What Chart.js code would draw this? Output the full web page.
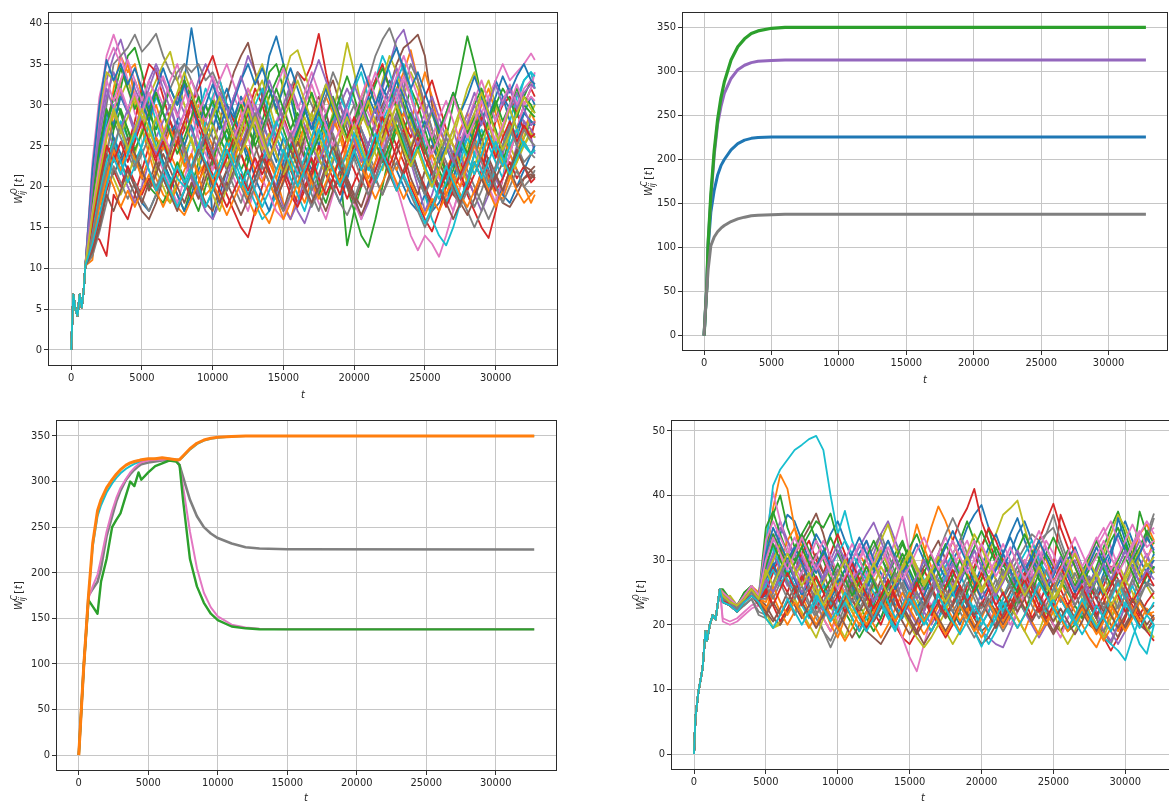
<!DOCTYPE html>
<html><head><meta charset="utf-8">
<script src="https://cdn.jsdelivr.net/npm/chart.js@4.4.0/dist/chart.umd.min.js"></script>
<style>
html,body{margin:0;padding:0;background:#fff;overflow:hidden;width:1169px;height:801px;position:relative}
canvas{position:absolute}
</style></head><body>
<canvas id="c1" width="570" height="405" style="left:0;top:0"></canvas>
<canvas id="c2" width="549" height="395" style="left:620px;top:0"></canvas>
<canvas id="c3" width="570" height="393" style="left:0;top:408px"></canvas>
<canvas id="c4" width="570" height="393" style="left:610px;top:408px"></canvas>
<script>
// ---------- tick labels ----------
const xTicks = [0, 5000, 10000, 15000, 20000, 25000, 30000];
const yTicksTL = [0, 5, 10, 15, 20, 25, 30, 35, 40];
const yTicksTR = [0, 50, 100, 150, 200, 250, 300, 350];
const yTicksBR = [0, 10, 20, 30, 40, 50];

// ---------- top-left: noisy W^O ----------
const tlStartT = [0,150,300,450,600,750,900,1000];
const tlStartW = [0,6.8,5.0,4.2,6.8,5.2,7.6,10.3];
const tlT = [1500,2000,2500,3000,3500,4000,4500,5000,5500,6000,6500,7000,7500,8000,8500,9000,9500,10000,10500,11000,11500,12000,12500,13000,13500,14000,14500,15000,15500,16000,16500,17000,17500,18000,18500,19000,19500,20000,20500,21000,21500,22000,22500,23000,23500,24000,24500,25000,25500,26000,26500,27000,27500,28000,28500,29000,29500,30000,30500,31000,31500,32000,32500,32767];
const tl01 = [14,18,22,26,24,22,20,18,17,19, 22,25,28,33,39.4,34,27,16,19,22, 24,26,23,27,31,36,38.4,35,31,27, 24,22,25,28,26,23,21,24,27,25, 28,31,33,30,27,24,21,19,17,18, 20,23,25,27,26,28,30,33,31,28, 26,29,31,30];
const tl02 = [16,20,26,32,36,34,35,31,28,30, 27,24,22,25,28,30,27,25,22,24, 26,29,32,30,27,24,21,18,16,19, 22,25,28,31,29,26,23,25,28,30, 27,25,29,32,34,36.7,33,29,26,24, 22,24,27,29,26,24,21,19,18.5,21, 24,27,29,28];
const tl03 = [12,16,21,27,32,36,37,34,30,26, 23,21,19,17,20,23,26,29,31,28, 25,22,24,27,30,34,35,32,29,26, 24,21,19,22,25,22,12.8,17,20,23, 26,29,31,33,30,27,25,22,20,24, 26,30,34,38.4,35,31,28,25,23,26, 29,31,33,32];
const tl04 = [14,13.5,11.5,19,17.5,16,19,22,25,23, 26,29,31,33,30,27,25,23,21,19, 17,15,13.8,17,20,23,26,29,31,34, 33,35,38.7,34,30,27,24,22,20,23, 26,29,27,25,23,20,18,16,14.5,17, 20,23,21,19,17,15,13.7,17,21,24, 27,30,32,31];
const tl05 = [20,27,33,36,38,35,32,30,33,35, 33,31,29,27,30,33,35,33,30,28, 31,33,36,34,31,28,25,23,20,17, 15.5,18,21,24,27,30,32,30,27,25, 28,32,35,38,39.2,36,33,30,27,25, 23,21,24,27,29,26,23,21,19,22, 25,28,26,24];
const tl06 = [18,23,28,31,29,27,24,21,20,22, 25,28,26,23,21,19,22,25,28,31, 34,36,37.6,34,31,28,26,24,22,20, 23,26,29,31,33,30,27,24,22,25, 28,30,32,35,37,37.7,38.6,36,30,25, 22,20,18,21,24,26,23,20,18,17.5, 19,21,22,21];
const tl07 = [21,30,36,38.6,36,33,31,28,26,24, 22,20,18,21,24,27,30,28,25,23, 21,19,17,20,23,26,28,30,27,24, 22,20,18,16,19,22,25,28,31,29, 27,25,23,20,17,14,12.2,14,13,11.4, 14,17,20,23,26,29,31,33,35,33, 34,35,36.3,35.5];
const tl08 = [17,24,30,35,36,37,38.6,36.5,37.5,38.7, 36,34,33,35,34,35,33,34,32,30, 28,31,29,27,25,23,26,29,32,34, 32,30,28,31,34,32,29,27,30,33, 36,38,39.4,37,34,31,28,25,22,20, 18,21,24,22,20,18,16,18,21,24, 22,20,21,22];
const tl09 = [22,29,34,33,31,33,30,28,31,33, 35,36.5,33,30,27,25,28,31,29,27, 25,28,31,33,35,32,29,33,36,36.7, 34,31,28,26,29,33,37.6,34,30,27, 24,22,25,28,31,34,32,29,26,23, 21,19,22,25,28,31,33,30,27,25, 23,25,27,26];
const tl10 = [12,15,20,24,28,26,23,25,28,31, 29,27,25,23,26,29,32,30,28,26, 24,22,20,18,16,17,19,22,25,23, 21,24,27,25,23,26,29,32,34,31, 33,36,34,31,28,25,22,19,16,14, 12.8,15,18,21,24,27,25,23,21,26, 30,33,34,32];
const tl11 = [20,24,28,26,23,25,27,30,28,25, 23,21,19,17,19,22,25,27,30,32, 29,26,24,21,19,17,20,23,25,28, 30,28,25,22,20,18,21,24,26,23, 25,27,24,22,20,18,17,19,22,20, 18,21,24,26,28,25,22,20,19,18, 20,22,24,25];
const tl12 = [11,19,24,29,33,35,31,27,24,21, 19,18,20,22,24,21,19,20,23,25, 27,24,22,19,17,15.5,18,21,23,20, 18,21,24,27,24,22,25,28,31,33, 30,27,24,22,25,28,31,34,31,27, 25,23,21,24,27,30,32,29,26,24, 22,20,18,19];
const tl13 = [15,22,27,31,29,26,24,22,20,19, 18,20,23,21,19,17,20,23,26,24, 22,20,23,26,28,31,33,35,32,28, 25,23,20,18,21,24,20,17,14,12.6, 16,20,24,27,29,32,30,27,24,22, 20,22,25,28,30,32,29,27,24,22, 24,26,28,27.5];
const tl14 = [17,20,25,24,22,25,28,32,35,34, 31,28,25,27,30,32,34,36,33,30, 28,26,29,32,30,27,24,22,20,18, 20,22,25,23,21,19,22,25,28,31, 33,35,32,30,28,26,29,31,33,30, 27,25,23,21,19,22,25,28,30,31, 29,27,26,28];
const tl15 = [19,23,27,25,22,20,18,20,23,26, 28,30,27,24,21,19,17,16,18,21, 24,27,30,28,25,22,20,17.5,16,18, 21,24,27,29,26,23,21,19,16,18, 21,24,27,29,26,23,20,17,19,22, 25,27,24,21,19,17,19,22,24,27, 29,28,27,26];
const tl16 = [13,16,21,25,23,21,19,17,16,18, 21,24,27,25,22,20,18,17,20,22, 25,28,30,27,24,22,19,17,20,23, 26,29,31,29,26,23,21,19,17.5,20, 23,26,29,27,24,21,19,22,25,23, 21,19,18,20,23,21,19,21,23,22, 20,21,21.5,21];
const tl17 = [23,31,35,37,35,32,29,27,30,32, 30,33,35,32,29,26,24,22,25,28, 31,29,26,23,21,19,17,16,19,22, 25,28,30,27,24,22,20,18,16,19, 22,25,28,30,33,31,28,26,23,21, 19,17,20,23,25,22,20,18,21,24, 27,30,32,34];
const tl18 = [16,20,24,28,26,24,22,24,26,28, 30,32,34,35,33,31,28,26,24,22, 20,18,21,24,26,29,31,28,26,24, 22,19,17,20,23,26,28,30,27,24, 22,24,26,29,32,35,33,30,27,25, 23,21,19,17,15,17,20,22,25,27, 25,23,24,23.5];
const tl19 = [14,19,23,21,19,21,24,27,25,22, 20,18,21,24,26,23,21,19,17,20, 23,26,28,31,33,30,27,25,22,24, 27,29,26,24,22,20,23,26,29,27, 30,33,36,34,31,28,25,27,29,26, 24,26,29,32,34,31,28,25,23,21, 23,26,29,30];
const tl20 = [16,23,28,30,27,24,26,29,31,28, 25,23,21,20,22,25,28,31,33,30, 27,25,27,30,32,29,26,24,21,19, 17,20,23,26,28,31,29,26,24,22, 25,28,30,33,35,32,28,25,22,20, 18,20,23,26,24,22,20,22,25,28, 31,33,34,33.5];
const tl21 = [18,24,29,27.5,31,29,33,30.5,28,31.5, 29,26.5,28,25,27.5,24,26,29.5,27,30, 28.5,31,29,26.5,28,25.5,23,26,24.5,27, 29.5,27,30,32.5,30,27.5,29,26,28.5,31, 29,32,30.5,33,31,28.5,26,28,25.5,23, 25,22.5,24.5,27,25.5,28,30.5,28,31,29.5, 27,29,28,27.5];
const tl22 = [13,17.5,21,24.5,22,25,23.5,21,23.5,26, 24.5,27,25,22.5,24,21.5,23,20.5,22,24.5, 23,26,24.5,22,20.5,23,21,24,26.5,25, 27.5,25,23,25.5,28,26.5,24,26,23.5,21, 23,25.5,28,26.5,29,27,24.5,22,24,21.5, 19,21.5,20,22.5,25,23.5,26,24,22.5,25, 27,25.5,24,24.5];
const tl23 = [16,22,27,31,34.5,32,29.5,31.5,29,27, 29.5,32,30,33,31,28.5,30,27.5,25,27, 24.5,27,29.5,27,30,32,29.5,27,24.5,26.5, 29,31.5,29,26.5,28.5,31,33.5,31,28,30, 32.5,34.5,32,29.5,27,29,26.5,24,26.5,24, 21.5,23.5,26,24,27,29,27,30,32,30.5, 28.5,31,30,29];
const tl24 = [12.5,16,19.5,22,20,22.5,20.5,19,21,19.5, 21.5,19.5,22,20.5,18.5,20.5,23,21.5,19.5,17.5, 19.5,21.5,19.5,22,24,22,19.5,21.5,19,17.5, 19.5,21.5,23.5,21.5,19.5,21,18.5,20.5,22.5,20, 22,24.5,22.5,25,27,24.5,22,20,18,19.5, 17.5,19.5,21.5,19.5,21.5,23.5,21.5,19.5,21,23, 21,22.5,20.5,21];
const tl25 = [19,26,31,34,31.5,29,26.5,28.5,26,24, 26,28.5,31,29,27,24.5,26.5,29,31.5,29.5, 27,25,27.5,30,28,25.5,27.5,30,32.5,30, 27.5,25,23,25,27.5,30,28,25.5,23,25, 27.5,29.5,32,34.5,32,29.5,27,29,31,28.5, 26,24,26.5,29,31.5,29,26.5,24.5,27,29.5, 31.5,29.5,27.5,28];
const tl26 = [15,20,24,21.5,23.5,26,24,22,19.5,21.5, 24,22,20,18,20.5,18.5,21,23.5,21.5,19.5, 22,24.5,27,25,22.5,20.5,18.5,20.5,23,25.5, 23.5,21,19,17,19.5,22,20,18,20.5,23, 21,19,21.5,24,26.5,24.5,22,19.5,17.5,19.5, 22,20,18,16.5,18.5,21,23.5,21.5,19.5,22, 24.5,22.5,21,21.5];
const tl27 = [21,28,33,30.5,33,35.5,33,30.5,33,31, 33.5,31,28.5,31,33,30.5,28,30.5,33,35, 32.5,30,32,29.5,27,29.5,32,34.5,32,29.5, 31.5,34,31.5,29,31,28.5,26,28.5,31,33.5, 31,28.5,31,33.5,36,33.5,31,28.5,26,28.5, 30.5,28,25.5,28,30.5,33,30.5,28,30.5,32.5, 30,32,33,32.5];
const tl28 = [11.5,14.5,18,22.5,20.5,18.5,20.5,18.5,17,19, 21,19,17.5,19.5,21.5,19.5,17.5,19.5,22,24.5, 22.5,20,18,20,22.5,20.5,18.5,17,19,21.5, 19.5,17.5,19.5,22,20,18,16.5,18.5,21,23.5, 21,19,21,23,21,19,17,15,17,19.5, 21.5,19.5,17.5,19.5,17.5,19.5,22,20,18,20, 22,20,19,19.5];
const tl29 = [17.5,23,26.5,29,26.5,28.5,31,28.5,26,28.5, 26,23.5,25.5,28,25.5,23,25,27.5,25,22.5, 24.5,27,29.5,27,24.5,26.5,24,21.5,23.5,26, 28.5,26,23.5,21.5,23.5,26,28.5,26,28,30.5, 28,25.5,27.5,30,27.5,25,27,24.5,22,24.5, 27,25,22.5,20.5,22.5,25,27.5,25,27,29.5, 27,25,26.5,26];
const tl30 = [14.5,19,23,25.5,23,20.5,22.5,25,27.5,25, 22.5,20.5,22.5,20.5,22.5,25,23,21,23,25.5, 23.5,21,19,21,23,25.5,28,26,23.5,21.5, 23.5,26,28.5,26.5,24,22,24,26.5,24.5,22.5, 20.5,22.5,25,27.5,25.5,23,25,22.5,20.5,18.5, 20.5,23,25.5,23.5,21.5,24,26.5,24.5,22.5,25, 27,25,24,24.5];
const tl31 = [22,30,35.5,33,35,32.5,34.5,32,29.5,32, 34.5,32,30,32.5,30,27.5,30,32.5,30,28, 30.5,33,35,32.5,34.5,32,29.5,32,34.5,32, 29.5,27,29.5,32,29.5,27.5,30,32.5,35,32.5, 30,32.5,35,37,34.5,32,34,31.5,29,26.5, 29,31.5,29,31,33.5,31,28.5,31,33.5,31.5, 33.5,35,33,32.5];
const tl32 = [13.5,18,22,20,17.5,19.5,17.5,19.5,21.5,19.5, 17.5,19.5,17.5,16.5,18.5,20.5,22.5,20.5,18.5,16.5, 18.5,20.5,18.5,16.5,18.5,20.5,18.5,16,18,20.5, 22.5,20.5,18.5,20.5,22.5,20.5,22.5,24.5,22.5,20.5, 18.5,20.5,22.5,20.5,18.5,20.5,18.5,16.5,18.5,17, 19,21,19,17.5,19.5,21.5,19.5,17.5,19.5,21.5, 19.5,18,19,19.5];
const tl33 = [18.5,25,29.5,27,29.5,27,24.5,26.5,29,31.5, 29,26.5,24,26,28.5,31,28.5,30.5,28,25.5, 27.5,30,27.5,25,27,29.5,32,29.5,27,29, 26.5,24,26,28.5,31,28.5,26,28,30.5,28, 25.5,23,25,27.5,25,22.5,24.5,27,29.5,27, 29,31.5,29,26.5,28.5,26,28,30.5,28,30, 32,30,29,28.5];
const tl34 = [15.5,21,25,23,25.5,23,25.5,28,25.5,23.5, 25.5,23,25.5,28,30.5,28,25.5,23.5,21.5,23.5, 26,24,21.5,23.5,21.5,23.5,26,28.5,26,23.5, 21.5,23.5,21,19,21,23.5,26,28.5,26,23.5, 26,28.5,26,23.5,21.5,23.5,26,23.5,21.5,19.5, 21.5,24,21.5,23.5,26,28.5,26,23.5,26,28, 25.5,27.5,26,26.5];
const tl35 = [20,27.5,32,29.5,27,29.5,27,29.5,32,34.5, 32,29.5,27,29,31.5,29,26.5,24,26,28.5, 31,33.5,31,28.5,30.5,33,30.5,28,26,28, 30.5,33,35.5,33,30.5,28,30,32.5,30,27.5, 29.5,27,29.5,32,29.5,27,25,27,29.5,27.5, 25,23,25,27.5,30,27.5,30,32.5,30,32, 29.5,31.5,32.5,32];
const tl36 = [12,15,19,17,19.5,22,20,18,20.5,23, 21,19,17,19.5,22,24.5,22.5,20,18,20.5, 18.5,16.5,18.5,21,23.5,21.5,19.5,22,24.5,22.5, 20,18,20,22.5,25,22.5,20.5,18.5,16.5,18.5, 21,23.5,21.5,19.5,22,24.5,27,24.5,22,20, 18,16,18,20.5,23,21,19,21.5,19.5,22, 24.5,22.5,22,22.5];
const tl37 = [17,22.5,27,29.5,32,29.5,31.5,29,31.5,29, 26.5,24.5,26.5,29,31.5,29,31,33.5,31,28.5, 26,28,30.5,28,25.5,23.5,25.5,28,25.5,27.5, 30,32.5,30,27.5,25,27,29.5,27,29,31.5, 34,31.5,29,31,33.5,31,28.5,26,24,26, 28.5,31,28.5,26,28,30.5,28,25.5,27.5,30, 32.5,30,31,30.5];
const tl38 = [14,18.5,22,25,27.5,25,22.5,24.5,22,20, 22,24.5,27,24.5,22,24,26.5,24,21.5,19.5, 21.5,24,26.5,29,26.5,24,22,24,26.5,24, 21.5,19.5,21.5,24,26.5,24,21.5,23.5,21,19, 21,23.5,26,28.5,26,23.5,21,19,21,23.5, 26,23.5,21,23,25.5,23,20.5,22.5,25,27.5, 25,27,25.5,25];
const tl39 = [16.5,21.5,26,29.5,27,24.5,27,29.5,27,24.5, 26.5,29,31.5,34,31.5,29,26.5,28.5,31,28.5, 26,24,26,28.5,26,23.5,25.5,28,30.5,33, 30.5,28,30,32.5,30,27.5,25.5,27.5,25,22.5, 24.5,27,29.5,27,24.5,22.5,24.5,22,20,22, 24.5,27,29.5,27,29,31.5,29,26.5,24.5,26.5, 29,31,29.5,29];
const tl40 = [13,16.5,20,23.5,21.5,24,26.5,24.5,22,19.5, 21.5,19.5,17.5,19.5,22,20,17.5,19.5,22,24.5, 22.5,20,22,19.5,17.5,19.5,22,24.5,22.5,20, 22,24.5,27,24.5,22,20,22,24.5,22,24, 26.5,24,22,19.5,21.5,19.5,17.5,15.5,17.5,20, 22.5,20.5,18.5,20.5,23,21,23,25.5,23.5,21.5, 23.5,25.5,24,24.5];

// ---------- top-right: smooth W^C ----------
const trT = [0,100,200,300,500,750,1000,1250,1500,2000,2500,3000,3500,4000,5000,6000,32767];
const trGreen  = [0,28,55,105,160,210,245,270,288,313,328,337,343,346,349,350,350];
const trPurple = [0,28,55,105,155,205,240,260,275,292,302,307,310,311.5,312.5,313,313];
const trBlue   = [0,28,55,100,140,165,182,193,200,211,218,222,224,225,225.5,225.5,225.5];
const trGray   = [0,28,52,75,102,112,118,122,125,129.5,132.5,134.5,136,136.7,137.3,137.7,137.7];

// ---------- bottom-left: W^C with switch ----------
const blT = [0,350,700,1000,1350,1600,2000,2400,2700,3000,3400,3700,4000,4300,4500,5000,5500,6000,6500,7000,7250,7500,8000,8500,9000,9500,10000,11000,12000,13000,15000,32767];
const blOrange = [0,95,175,232,268,280,293,302,308,313,318,320.5,322,323,324,325,325,326,325,324,324,328,336,342,345.5,347.5,348.5,349.5,350,350,350,350];
const blCyan   = [0,95,175,228,262,274,288,298,304,309,314,317,319.5,321,322,324,325,325.5,325,324,324,327,335,341,345,347,348,349.5,350,350,350,350];
const blGray   = [0,95,175,182,190,205,240,262,278,290,302,308,313,317,319,321,322,323,323,323,318,305,280,262,250,243,238,232,228,226.5,225.8,225.5];
const blPink   = [0,95,172,185,198,215,245,268,282,293,303,310,315,319,321,323,324,324,325,324,318,295,245,205,178,162,152,143,140,138.5,138,138];
const blGreen  = [0,95,170,163,155,190,215,250,258,265,285,300,295,310,302,310,317,320,323,322,318,280,215,185,167,155,148,141,139,138,137.8,137.8];

// ---------- bottom-right: noisy W^O ----------
const brStartT = [0,100,300,600,800,900,1100,1300,1500,1800];
const brStartW = [0,5.6,9.5,13.3,19,17.5,20,21.5,20.8,25.5];
const brT = [2000,2500,3000,3500,4000,4500,5000,5500,6000,6500,7000,7500,8000,8500,9000,9500,10000,10500,11000,11500,12000,12500,13000,13500,14000,14500,15000,15500,16000,16500,17000,17500,18000,18500,19000,19500,20000,20500,21000,21500,22000,22500,23000,23500,24000,24500,25000,25500,26000,26500,27000,27500,28000,28500,29000,29500,30000,30500,31000,31500,32000];
const br01 = [24,23,22.5,24,25,24,24.5,30,34,37, 36,33,30,28,31,34,36,33,30,27, 25,23,21,24,27,30,28,25,23,26, 26,28,30,32,35,37,38.5,35,31,29, 31,34,36,33,30,27,25,27,30,32, 29,27,25,28,31,34,36,33,30,28, 31];
const br02 = [25,24,23,24.5,26,25,30,38,43.2,41, 35,30,26,23,21,19,22,25,28,31, 29,27,24,22,20,18,21,26,31,35, 38.3,36,33,30,28,26,24,22,20,22, 22,25,28,31,33,30,27,24,22,25, 28,30,27,24,22,19,21,24,27,30, 33];
const br03 = [25.5,24,23,25,26,24,32,37,40,35, 32,34,36,33,30,27,24,22,20,18, 20,23,26,28,31,33,30,27,24,22, 25,28,31,33,36,33,30,27,25,23, 21,24,27,30,28,25,23,21,19,20, 23,26,29,32,35,37.5,34,31,28,26, 29];
const br04 = [24,23,22,24,25,24,25,28,31,29, 32,30,27,29,31,28,25,23,21,19, 22,25,24,22,20,18,17,19,22,25, 28,30,33,36,38,41,36,33,30,28, 26,24,27,30,33,36,38.7,35,32,29, 26,23,21,18,16,18,21,24,22,19, 17.5];
const br05 = [24,23.5,22,24,25.5,24,28,33,36,33, 30,28,26,24,22,25,28,31,29,26, 28,31,34,36,33,30,27,24,22,20, 22,24,26,23,21,20,19,18,17,16.5, 19,22,25,28,31,29,26,24,22,20, 23,26,24,21,19,17,19,22,25,28, 30];
const br06 = [24,23,22.5,24,25,24,27,30,32,29, 31,33,35,37.2,34,30,27,25,23,21, 19,18,17,19,21,23,25,27,29,31, 33,30,27,25,23,21,19,20,22,24, 26,28,30,27,25,22,20,19,21,23, 25,27,24,22,20,18,20,22,24,22, 21];
const br07 = [21,20.5,21,22,23,23.5,33,40.5,36,32, 29,27,25,23,21,19,21,24,27,30, 33,30,27,24,21,18,15,12.8,17,21, 25,28,31,33,30,27,24,22,20,22, 24,27,30,28,25,23,20,18,21,24, 27,30,33,35,32,29,26,28,31,34, 35];
const br08 = [23.5,23,22,23,24,22,21.5,25,27,29, 31,28,25,22,19,16.5,19,22,25,28, 30,32,34,31,28,26,24,22,25,28, 31,34,36.5,34,31,28,26,23,21,19, 21,23,26,29,32,34,35,32,29,27, 25,23,21,19,17,20,23,27,31,34, 37.2];
const br09 = [24,24.5,23,24,25.5,24,22,19.5,20,22, 25,28,31,29,26,23,20,18,21,24, 27,30,33,35.5,32,29,27,24,21,19, 21,19,17,19,22,25,28,31,34,37, 38,39.2,35,31,28,25,22,19,17,19, 22,25,28,31,34,37,35,32,29,26, 24];
const br10 = [24,23,22,24,25,24,32,41.5,44,45.5, 47,47.8,48.7,49.2,47,40,34,37.6,33,30, 28,26,24,22,25,28,31,29,27,25, 27,29,31,28,25,22,19,17,19,22, 25,28,26,24,22,20,23,26,29,27, 25,22,20,18,17,16,14.5,18,21,19, 20];
const br11 = [24.5,23.5,22.5,24,25,24,26,29,31,28, 26,28,31,34,32,29,27,25,28,31, 33,30,28,26,23,21,24,27,30,28, 26,24,22,20,23,26,29,32,34,31, 34,36.5,33,30,27,25,23,26,29,31, 28,26,24,27,30,36.5,33,30,28,26, 29];
const br12 = [25,24,23,24.5,25.5,24.5,22,26,30,33, 35,32,29,26,23,20,18,21,24,27, 29,27,25,23,25,28,31,35.5,32,29, 26,23,21,19,22,25,27,30,27,25, 23,21,19,22,25,28,30,27,24,22, 20,18,16.5,19,22,25,28,31,34,35.5, 33];
const br13 = [25,24,23,25,26,24.5,35,37.5,34,31, 30,32,34,36,35,37.2,33,29,26,23, 21,19,21,24,27,30,32,34,31,28, 25,22,20,22,25,28,32,34.8,31,28, 26,24,22,25,28,31,29,27,25,23, 21,24,27,30,33,35,32,30,37.5,34, 31];
const br14 = [24,23,22,24,25,24,25,29,27,25, 28,31,33,30,28,31,34,31,28,26, 24,22,20,23,26,29,31,28,25,22, 20,18,20,23,26,29,32,35,33,30, 28,26,24,21,23,26,29,37,34,31, 28,26,24,26,29,27,25,23,21,19, 21];
const br15 = [24,23.5,22.5,24,25,24,27,31,35,33, 31,29,27,25,23,21,24,27,30,32, 34,35.8,33,30,27,24,22,20,22,25, 28,30,28,26,24,22,25,27,29,31, 28,25,22,20,18,20,23,26,28,30, 27,24,22,19,17.5,20,23,26,29,31, 28];
const br16 = [24,23,22,24,25,24,23,21,20,22, 24,27,29,31,28,25,22,20,18,20, 22,24,27,29,26,23,21,19,17,19, 21,24,27,24,22,19,17,18,20,23, 25,27,29,26,24,21,19,21,23,25, 22,20,19,22,25,27,24,22,20,19, 21];
const br17 = [20.5,20,20.5,21.5,22.5,23,30,34,31,28, 26,28,30,33,31,29,27,25,27,30, 32,29,27,30,33,36.7,31,28,25,23, 25,27,29,31,33,30,28,26,24,22, 20,22,25,28,30,33,31,28,26,24, 26,29,32,34,36,33,30,32,34,36, 34];
const br18 = [23.5,23,22.5,23,24,21.5,21,25,28,30, 27,25,23,21,19,17.5,20,23,26,24, 26,28,31,33,30,27,25,23,21,19, 21,23,25,22,20,18,20,22,25,28, 28,30,32,34,33,34,37,33,30,27, 25,22,20,19,21,23,26,29,31,33, 36.5];
const br19 = [24.5,24,23,24,25,24,21,19.5,20.5,22.5, 24,22,20,18,21,24,27,26,23,21, 23,26,29,27,24,22,20,18,16.5,18, 20,22,25,28,31,34,32,29,27,25, 23,21,19,17,19,22,25,28,30,27, 24,22,20,18,21,24,27,25,22,19.5, 18];
const br20 = [24,23.5,22.5,24,25,24,29,32,29,27, 25,23,21,24,27,29,31,33,31,29, 27,25,23,21,19,22,25,23,21,19, 21,23,25,23,21,19,16.6,19,22,24, 27,29,31,33,30,28,26,24,22,20, 22,25,27,29,27,25,23,20,17,15.5, 20];
const br21 = [24.5,23,22,23.5,25,24.5,27,29.5,27,29.5, 27,24.5,26.5,29,26.5,24,26,28.5,26,23.5, 25.5,28,30.5,28,25.5,27.5,25,22.5,24.5,27, 29.5,27,24.5,26.5,29,26.5,24,26,28.5,31, 28.5,26,28,30.5,28,25.5,27.5,30,27.5,25, 27,29.5,27,24.5,26.5,29,31.5,29,26.5,28.5, 30];
const br22 = [25,23.5,22.5,24,25.5,24,22.5,24.5,22,20, 22,24.5,22,20,22,24.5,27,24.5,22,20, 22,20,18,20,22.5,25,22.5,20.5,18.5,20.5, 23,25.5,23,20.5,22.5,20,18,20,22.5,20.5, 22.5,25,22.5,20.5,18.5,20.5,23,21,19,21, 23.5,21.5,19.5,17.5,19.5,22,24.5,22.5,20.5,22.5, 21];
const br23 = [24,23,22.5,24.5,25,24,30,34,31.5,29, 31.5,34,31.5,29,31,33.5,31,28.5,26,28, 30.5,33,30.5,28,30,32.5,30,27.5,25.5,27.5, 30,32.5,30,27.5,29.5,32,34.5,32,29.5,27, 29,31.5,34,31.5,29,31,33.5,31,28.5,26, 28,30.5,33,30.5,28,30,32.5,30,32,34.5, 32.5];
const br24 = [23.5,23,22,24,24.5,23.5,25,23,20.5,22.5, 25,27.5,25,22.5,24.5,27,24.5,22,24,21.5, 19.5,21.5,24,26.5,24,21.5,23.5,26,28.5,26, 23.5,21.5,23.5,26,23.5,21,23,25.5,23,21, 23,25.5,28,25.5,23,21,23,25.5,23,25, 27.5,25,22.5,24.5,27,24.5,22,24,21.5,23.5, 25];
const br25 = [24.5,23.5,22.5,24,25,24,28,31,28.5,26, 28,30.5,28,25.5,27.5,30,32.5,30,27.5,25, 27,29.5,27,24.5,26.5,29,26.5,24,26,28.5, 31,28.5,26,28,30.5,28,25.5,23,25,27.5, 30,27.5,25,27,29.5,32,29.5,27,29,31.5, 29,26.5,28.5,31,28.5,26,28,30.5,33,30.5, 28.5];
const br26 = [24,23,22,23.5,25,23.5,22,20.5,22.5,25, 23,21,23,25.5,23.5,21.5,19.5,21.5,24,22, 24,26.5,24.5,22.5,20.5,22.5,20.5,18.5,20.5,23, 21,19,21,23.5,21.5,19.5,21.5,24,22,20, 22,24.5,22.5,20.5,22.5,20.5,18.5,20.5,23,21, 23,21,19,21,23.5,21.5,19.5,21.5,24,22, 23];
const br27 = [25,24,23,24.5,26,24.5,33,36,33.5,31, 33.5,31,28.5,30.5,33,30.5,28,30,32.5,30, 27.5,29.5,32,29.5,27,29,31.5,29,26.5,28.5, 31,33.5,31,28.5,30.5,33,30.5,28,30,32.5, 30,27.5,29.5,32,34.5,32,29.5,27,29,31.5, 29,31,33.5,31,28.5,30.5,33,35.5,33,30.5, 32];
const br28 = [24,23,22,24,25,24,26,24,26.5,24, 21.5,23.5,26,23.5,21,23,25.5,27.5,25,22.5, 24.5,27,24.5,22,24,26.5,24,21.5,23.5,26, 28,25.5,23,25,27.5,25,22.5,24.5,27,24.5, 26.5,29,26.5,24,26,28.5,26,23.5,25.5,28, 25.5,23,25,27.5,25,22.5,24.5,27,24.5,26.5, 26];
const br29 = [24.5,24,22.5,24,25.5,24,27.5,30,32.5,30, 27.5,29.5,27,24.5,26.5,29,26.5,24,22,24, 26.5,29,31.5,29,26.5,28.5,31,28.5,26,28, 30.5,28,25.5,27.5,30,27.5,25,27,29.5,27, 29,31.5,29,26.5,28.5,26,23.5,25.5,28,25.5, 27.5,30,27.5,25,27,29.5,27,29,31.5,29, 30.5];
const br30 = [23.5,23,22.5,23.5,24.5,23.5,26,28.5,26,28.5, 26,23.5,21.5,23.5,26,23.5,21.5,23.5,21,19, 21,23.5,26,23.5,21,23,25.5,23,20.5,22.5, 25,27.5,25,22.5,24.5,22,20,22,24.5,22, 24,26.5,29,26.5,24,22,24,21.5,19.5,21.5, 24,21.5,19.5,21.5,24,26.5,24,26,23.5,21.5, 23.5];
const br31 = [24,23.5,22.5,24,25,24.5,31,35,32.5,30, 32,29.5,27,29,31.5,29,26.5,28.5,31,33.5, 31,28.5,30.5,33,30.5,28,30,32.5,30,27.5, 29.5,32,34.5,32,29.5,31.5,29,26.5,28.5,31, 33.5,31,28.5,30.5,33,30.5,28,30,27.5,25, 27,29.5,32,29.5,31.5,34,31.5,29,31,33.5, 31.5];
const br32 = [24.5,23,22,23.5,25,24,23.5,26,23.5,21.5, 23.5,21.5,19.5,21.5,23.5,21.5,19.5,17.5,19.5,22, 20,22,24.5,22.5,20.5,22.5,25,22.5,20.5,22.5, 20.5,18.5,20.5,23,21,19,21,23.5,21.5,19.5, 21.5,19.5,21.5,24,22,20,22,24.5,22.5,20.5, 22.5,20.5,18.5,20.5,23,21,19,21,23.5,21.5, 22];
const br33 = [25,24,23,24.5,25.5,24.5,29,32.5,30,27.5, 29.5,32,29.5,27,25,27,29.5,27,24.5,26.5, 29,26.5,24,26,28.5,31,28.5,26,28,30.5, 28,25.5,27.5,30,27.5,25,27,29.5,32,29.5, 27,25,27,29.5,27,24.5,26.5,29,31.5,29, 26.5,28.5,31,28.5,26,28,30.5,28,25.5,27.5, 29];
const br34 = [24,23,22.5,24,24.5,23.5,25.5,23,25.5,28, 25.5,23,25,27.5,25,22.5,24.5,27,29.5,27, 24.5,22.5,24.5,27,24.5,22,24,26.5,24,21.5, 23.5,26,28.5,26,23.5,25.5,28,25.5,23,25, 22.5,24.5,27,24.5,22,24,26.5,29,26.5,24, 26,23.5,21.5,23.5,26,28.5,26,23.5,25.5,28, 26];
const br35 = [24.5,23.5,22,24,25,24,27,25,27.5,30, 27.5,25,27,29.5,27,29,31.5,29,26.5,28.5, 26,23.5,25.5,28,30.5,28,25.5,27.5,30,27.5, 25,27,29.5,27,29,31.5,29,26.5,24.5,26.5, 29,31.5,29,26.5,28.5,26,28,30.5,28,25.5, 27.5,25,27,29.5,27,29,31.5,29,26.5,28.5, 27];
const br36 = [23.5,23,22,23.5,24.5,23,21.5,23.5,21.5,23.5, 26,23.5,21.5,19.5,21.5,24,22,24,26.5,24.5, 22.5,20.5,22.5,25,22.5,20.5,18.5,20.5,23,25.5, 23,21,23,25.5,23.5,21.5,23.5,21.5,19.5,21.5, 24,22,24,26.5,24.5,22.5,20.5,22.5,20.5,18.5, 20.5,23,21,23.5,21.5,19.5,21.5,24,22,20, 21.5];
const br37 = [25,24,23,24.5,26,24.5,30,33.5,31,28.5, 31,33.5,31,28.5,30.5,28,25.5,27.5,30,32.5, 30,27.5,29.5,32,29.5,27,29,31.5,33.5,31, 28.5,30.5,33,30.5,28,30,32.5,30,27.5,29.5, 32,29.5,27,29,31.5,29,26.5,28.5,31,33.5, 31,28.5,30.5,33,30.5,28,30,32.5,34.5,32, 33];
const br38 = [24,23.5,22.5,24,25,24,24,26.5,29,26.5, 24,26,23.5,21.5,23.5,26,28.5,26,23.5,25.5, 23,21,23,25.5,28,25.5,23,25,22.5,24.5, 27,24.5,22,24,26.5,24,21.5,23.5,26,28.5, 26,23.5,25.5,23,21,23,25.5,28,25.5,23, 25,27.5,25,22.5,24.5,27,24.5,22,24,26.5, 25];
const br39 = [24.5,23.5,23,24,25.5,24,28.5,26,28.5,31, 28.5,26,28,25.5,23,25,27.5,30,27.5,25, 27,29.5,27,24.5,26.5,29,31.5,29,26.5,28.5, 26,23.5,25.5,28,30.5,28,25.5,27.5,25,27, 29.5,27,24.5,26.5,29,26.5,24,26,28.5,31, 28.5,26,28,25.5,23,25,27.5,30,27.5,29.5, 28];
const br40 = [23.5,23,22,23.5,24.5,23.5,21,19.5,21.5,24, 22,20,22,24.5,22.5,20.5,22.5,25,23,21, 19,21,23.5,21.5,19.5,21.5,24,22,20,22, 24.5,22.5,20.5,18.5,20.5,23,21,19,21,23.5, 21.5,19.5,21.5,24,26.5,24.5,22.5,20.5,22.5,20.5, 18.5,20.5,23,21,19,21,23.5,21.5,19.5,21.5, 20];

// ---------- styling ----------
const C = {blue:'#1f77b4', orange:'#ff7f0e', green:'#2ca02c', red:'#d62728', purple:'#9467bd',
           brown:'#8c564b', pink:'#e377c2', gray:'#7f7f7f', olive:'#bcbd22', cyan:'#17becf'};
const CYCLE = [C.blue,C.orange,C.green,C.red,C.purple,C.brown,C.pink,C.gray,C.olive,C.cyan];
const FONT = "'Liberation Sans Narrow','DejaVu Sans Condensed','Liberation Sans',sans-serif";
const TXT = '#262626';

function pts(ts, ws){ return ts.map((t,i)=>({x:t, y:ws[i]})); }
function ds(ts, ws, color, w){
  return {data: pts(ts, ws), borderColor: color, borderWidth: w, pointRadius: 0, fill: false, tension: 0, borderJoinStyle: 'round'};
}

function drawW(ctx, sup){
  const big = "italic 11px " + FONT, small = "italic 8px " + FONT, reg = "11px " + FONT;
  ctx.textAlign = 'left'; ctx.textBaseline = 'alphabetic';
  ctx.font = big; const wW = ctx.measureText('W').width, wt = ctx.measureText('t').width;
  ctx.font = small; const wS = Math.max(ctx.measureText(sup).width, ctx.measureText('ij').width);
  ctx.font = reg; const wb = ctx.measureText('[').width;
  const total = wW + wS + 1.5 + wb*2 + wt + 1;
  let x = -total/2; const base = 4;
  ctx.font = big; ctx.fillText('W', x, base); x += wW;
  ctx.font = small; ctx.fillText(sup, x, base - 5); ctx.fillText('ij', x - 1, base + 2.5); x += wS + 1.5;
  ctx.font = reg; ctx.fillText('[', x, base); x += wb;
  ctx.font = big; ctx.fillText('t', x + 0.5, base); x += wt + 1;
  ctx.font = reg; ctx.fillText(']', x, base);
}

function framePlugin(lbl){
  return {
    id: 'frame',
    afterDraw(chart){
      const {ctx, chartArea: a} = chart;
      ctx.save();
      ctx.strokeStyle = '#2b2b2b'; ctx.lineWidth = 1;
      ctx.strokeRect(Math.round(a.left)+0.5, Math.round(a.top)+0.5, Math.round(a.right-a.left)-1, Math.round(a.bottom-a.top)-1);
      ctx.fillStyle = TXT;
      ctx.font = "italic 11px " + FONT;
      ctx.textAlign = 'center'; ctx.textBaseline = 'middle';
      ctx.fillText('t', lbl.tx, lbl.ty);
      ctx.translate(lbl.yx, (a.top + a.bottom)/2);
      ctx.rotate(-Math.PI/2);
      drawW(ctx, lbl.sup);
      ctx.restore();
    }
  };
}

function axis(min, max, step, fitFn, tickList){
  return {
    type: 'linear', min: min, max: max, afterFit: fitFn,
    afterBuildTicks: s => { s.ticks = tickList.map(v => ({value: v})); },
    ticks: {font: {family: FONT, size: 11}, color: TXT, padding: 2, stepSize: step,
            includeBounds: false, maxRotation: 0, autoSkip: false, callback: v => String(v)},
    grid: {color: '#c6c6c6', lineWidth: 1, tickLength: 4, tickColor: '#333', drawTicks: true},
    border: {display: false}
  };
}

function makeChart(id, datasets, xr, yr, ystep, yTicks, g, lbl){
  new Chart(document.getElementById(id), {
    type: 'line',
    data: {datasets: datasets.slice().reverse()},
    options: {
      responsive: false, animation: false, events: [],
      layout: {padding: g.pad},
      plugins: {legend: {display: false}, tooltip: {enabled: false}},
      scales: {
        x: axis(xr[0], xr[1], 5000, s => { s.height = g.xh; }, xTicks),
        y: axis(yr[0], yr[1], ystep, s => { s.width = g.yw; }, yTicks)
      }
    },
    plugins: [framePlugin(lbl)]
  });
}

// top-left
const tlSeries = [tl01,tl02,tl03,tl04,tl05,tl06,tl07,tl08,tl09,tl10,tl11,tl12,tl13,tl14,tl15,tl16,tl17,tl18,tl19,tl20,
                  tl21,tl22,tl23,tl24,tl25,tl26,tl27,tl28,tl29,tl30,tl31,tl32,tl33,tl34,tl35,tl36,tl37,tl38,tl39,tl40];
const tlDs = tlSeries.map((s,i) => ds(tlStartT.concat(tlT), tlStartW.concat(s), CYCLE[i % 10], 1.8));
makeChart('c1', tlDs, [-1638, 34405], [-1.97, 41.37], 5, yTicksTL,
  {pad: {top: 12, right: 12, left: 0, bottom: 0}, yw: 48, xh: 39},
  {tx: 303, ty: 395, yx: 18, sup: 'O'});

// top-right
makeChart('c2', [ds(trT, trBlue, C.blue, 3), ds(trT, trPurple, C.purple, 3), ds(trT, trGreen, C.green, 3.2), ds(trT, trGray, C.gray, 3)],
  [-1638, 34405], [-17.5, 367.5], 50, yTicksTR,
  {pad: {top: 12, right: 1, left: 0, bottom: 0}, yw: 62, xh: 44},
  {tx: 305, ty: 380, yx: 28, sup: 'C'});

// bottom-left
makeChart('c3', [ds(blT, blCyan, C.cyan, 2), ds(blT, blGray, C.gray, 2.6), ds(blT, blPink, C.pink, 2), ds(blT, blGreen, C.green, 2.4), ds(blT, blOrange, C.orange, 3)],
  [-1638, 34405], [-17.5, 367.5], 50, yTicksTR,
  {pad: {top: 12, right: 13, left: 0, bottom: 0}, yw: 56, xh: 30},
  {tx: 306, ty: 390, yx: 18, sup: 'C'});

// bottom-right
const brSeries = [br01,br02,br03,br04,br05,br06,br07,br08,br09,br10,br11,br12,br13,br14,br15,br16,br17,br18,br19,br20,
                  br21,br22,br23,br24,br25,br26,br27,br28,br29,br30,br31,br32,br33,br34,br35,br36,br37,br38,br39,br40];
const brDs = brSeries.map((s,i) => ds(brStartT.concat(brT), brStartW.concat(s), CYCLE[i % 10], 1.8));
makeChart('c4', brDs, [-1600, 33600], [-2.46, 51.65], 10, yTicksBR,
  {pad: {top: 12, right: 3, left: 0, bottom: 0}, yw: 61, xh: 31},
  {tx: 313, ty: 390, yx: 30, sup: 'O'});
</script>
</body></html>
